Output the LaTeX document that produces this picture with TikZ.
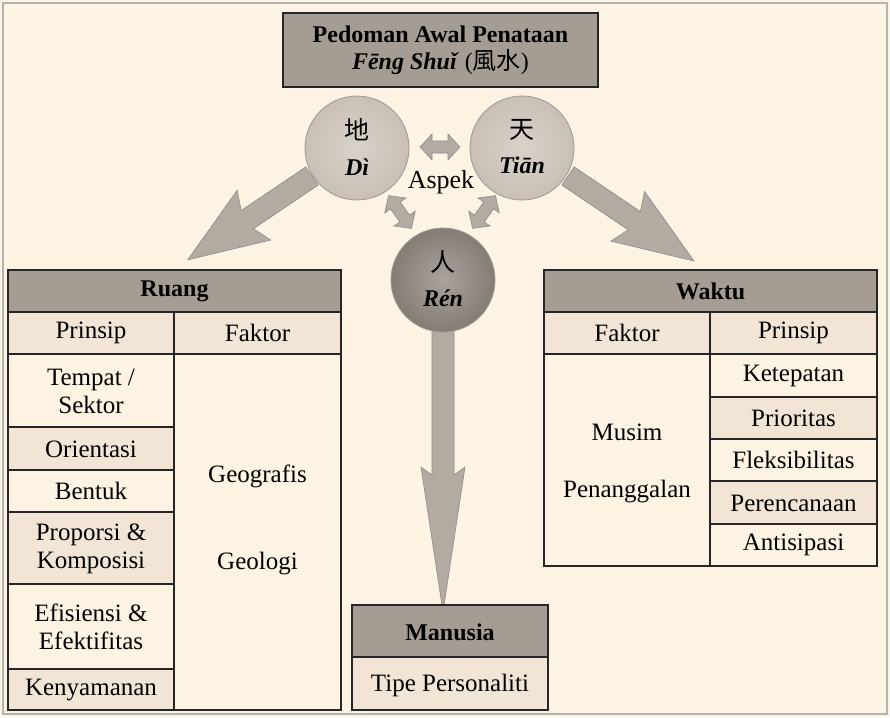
\documentclass[tikz,border=0pt]{standalone}
\usepackage{fontspec}
\setmainfont{Liberation Serif}
\newfontfamily\cjk{Noto Sans CJK SC}
\usetikzlibrary{shadings}
\definecolor{bg}{HTML}{FDF3E3}
\definecolor{hdr}{HTML}{A59C93}
\definecolor{shd}{HTML}{F3E5D5}
\definecolor{circ}{HTML}{C9BFB5}
\definecolor{ren}{HTML}{857C74}
\definecolor{arr}{HTML}{B3AAA1}
\tikzset{
  cell/.style={draw=black!85, line width=1.2pt, minimum height=0pt, inner sep=0pt},
  txt/.style={font=\fontsize{25}{28}\selectfont, align=center},
  htxt/.style={font=\fontsize{24}{27}\selectfont\bfseries, align=center},
  itb/.style={font=\fontsize{24}{27}\selectfont\bfseries\itshape},
  ball/.style={circle, draw=black!40, line width=0.8pt, minimum size=104pt, inner sep=0pt,
     inner color=#1!70, outer color=#1},
  barrow/.style={fill=arr, draw=black!45, line width=0.6pt},
}
\newcommand{\cellbox}[5]{\fill[#5] (#1,#2) rectangle (#3,#4); \draw[cell] (#1,#2) rectangle (#3,#4);}
\newcommand{\bigarr}[6]{% x y angle length headlen headhalfwidth
 \begin{scope}[shift={(#1,#2)}, rotate=#3]
  \draw[barrow] (0,-11) -- (#4-#5+8,-11) -- (#4-#5,-#6) -- (#4,0) -- (#4-#5,#6) -- (#4-#5+8,11) -- (0,11) -- cycle;
 \end{scope}}
\newcommand{\dblarr}[3]{% x y angle
 \begin{scope}[shift={(#1,#2)}, rotate=#3]
  \draw[barrow] (-20,0) -- (-8,-13) -- (-8,-6) -- (8,-6) -- (8,-13) -- (20,0) -- (8,13) -- (8,6) -- (-8,6) -- (-8,13) -- cycle;
 \end{scope}}
\begin{document}
\begin{tikzpicture}[x=1pt,y=-1pt]
\useasboundingbox (0,0) rectangle (890,717);
\fill[bg] (0,0) rectangle (890,717);
\draw[black!30, line width=2pt] (3,3) rectangle (887,714);
% title
\cellbox{283}{13}{598}{87}{hdr}
\node[htxt] (title) at (440.5,50) {Pedoman Awal Penataan\\ \textit{Fēng Shuǐ}\mdseries\ ({\cjk 風水})};
% big arrows
\bigarr{312}{176}{-146}{150}{80}{30}
\bigarr{568}{176}{-34}{152}{80}{30}
\bigarr{443}{320}{-90}{292}{145}{22}
% circles
\node[ball=circ] (di) at (357,148) {};
\node[ball=circ] (tian) at (522,148) {};
\node[ball=ren] (ren) at (443,280) {};
\node[txt] at (357,130) {\cjk 地};
\node[itb] at (357,167) {Dì};
\node[txt] at (522,130) {\cjk 天};
\node[itb] at (522,165) {Tiān};
\node[txt] at (443,262) {\cjk 人};
\node[itb] at (443,298) {Rén};
\node[txt, font=\fontsize{26}{28}\selectfont] (aspek) at (441,182) {Aspek};
\dblarr{440}{147}{0}
\dblarr{400}{212}{-55}
\dblarr{484}{212}{55}
% Ruang
\cellbox{8}{270}{341}{312}{hdr}
\node[htxt] (ruang) at (174.5,291) {Ruang};
\cellbox{8}{312}{174}{354}{shd}
\cellbox{174}{312}{341}{354}{shd}
\node[txt] at (91,333) {Prinsip};
\node[txt] at (257.5,333) {Faktor};
\cellbox{8}{354}{174}{427}{bg}
\cellbox{8}{427}{174}{470}{shd}
\cellbox{8}{470}{174}{512}{bg}
\cellbox{8}{512}{174}{584}{shd}
\cellbox{8}{584}{174}{669}{bg}
\cellbox{8}{669}{174}{710}{shd}
\cellbox{174}{354}{341}{710}{bg}
\node[txt] at (91,391) {Tempat /\\Sektor};
\node[txt] at (91,449) {Orientasi};
\node[txt] at (91,491) {Bentuk};
\node[txt] at (91,549) {Proporsi \&\\Komposisi};
\node[txt] at (91,627) {Efisiensi \&\\Efektifitas};
\node[txt] at (91,690) {Kenyamanan};
\node[txt] at (257.5,476) {Geografis};
\node[txt] at (257.5,564) {Geologi};
% Waktu
\cellbox{544}{270}{877}{312}{hdr}
\node[htxt] (waktu) at (710.5,291) {Waktu};
\cellbox{544}{312}{710}{354}{shd}
\cellbox{710}{312}{877}{354}{shd}
\node[txt] at (627,333) {Faktor};
\node[txt] at (793.5,333) {Prinsip};
\cellbox{544}{354}{710}{566}{bg}
\cellbox{710}{354}{877}{397}{bg}
\cellbox{710}{397}{877}{439}{shd}
\cellbox{710}{439}{877}{481}{bg}
\cellbox{710}{481}{877}{524}{shd}
\cellbox{710}{524}{877}{566}{bg}
\node[txt] at (627,432) {Musim};
\node[txt] at (627,492) {Penanggalan};
\node[txt] at (793.5,376) {Ketepatan};
\node[txt] at (793.5,418) {Prioritas};
\node[txt] at (793.5,460) {Fleksibilitas};
\node[txt] at (793.5,503) {Perencanaan};
\node[txt] at (793.5,545) {Antisipasi};
% Manusia
\cellbox{352}{605}{548}{657}{hdr}
\node[htxt] (manusia) at (450,632) {Manusia};
\cellbox{352}{657}{548}{710}{shd}
\node[txt] at (450,685) {Tipe Personaliti};
\end{tikzpicture}
\end{document}
